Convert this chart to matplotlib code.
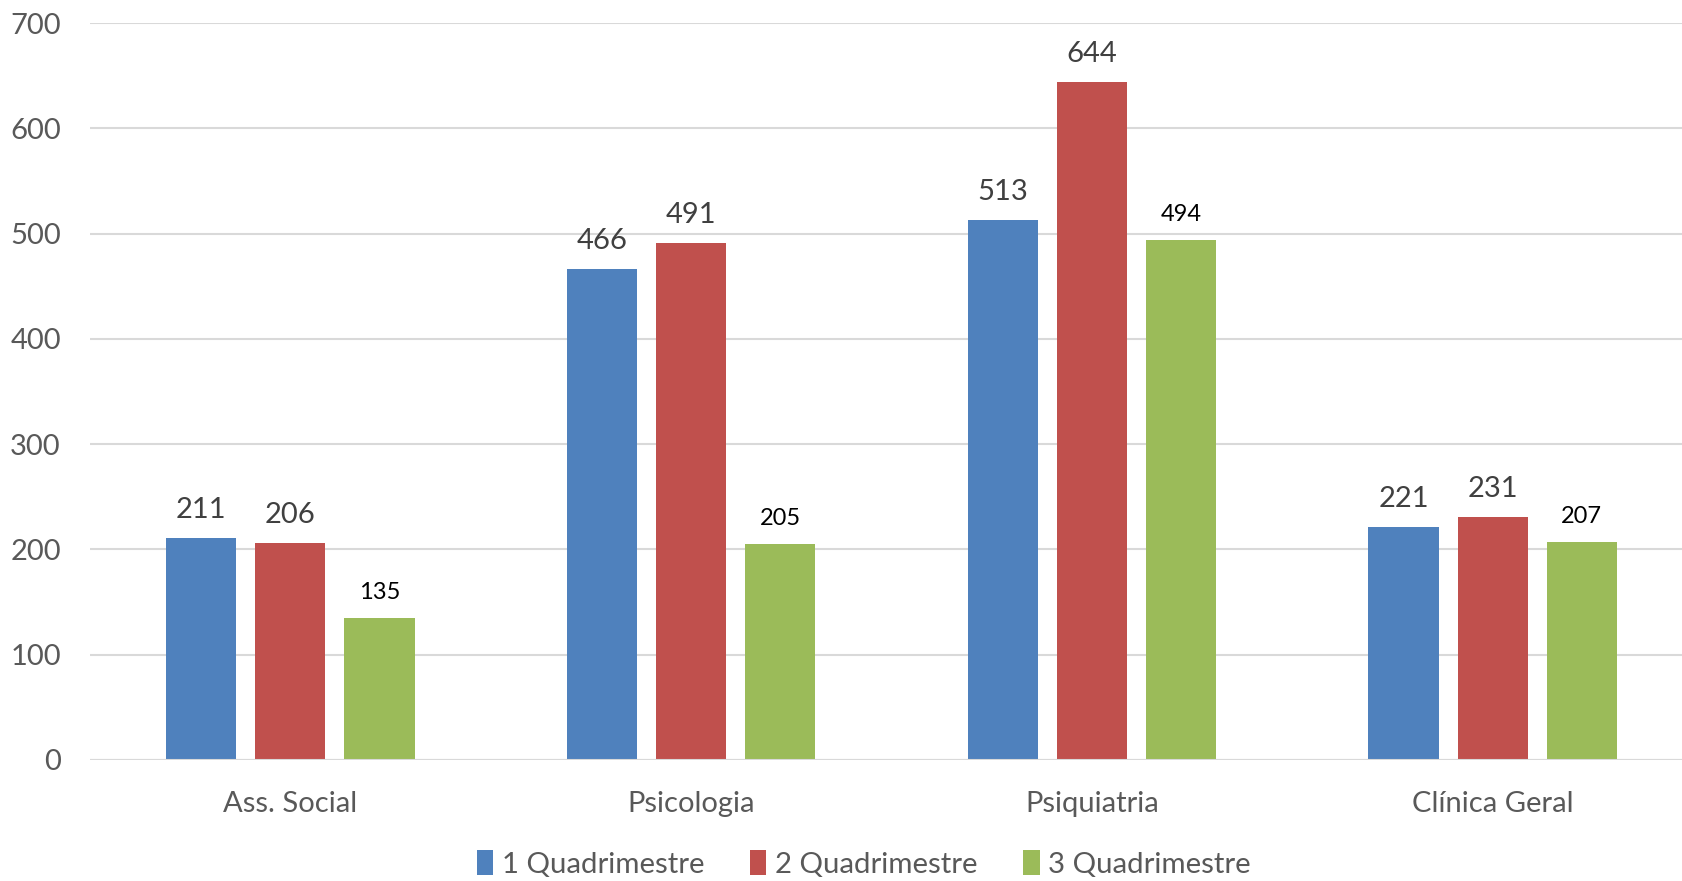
import matplotlib.pyplot as plt
import numpy as np

# dados
categorias = ['Ass. Social', 'Psicologia', 'Psiquiatria', 'Clínica Geral']
series = ['1 Quadrimestre', '2 Quadrimestre', '3 Quadrimestre']
q1 = [211, 466, 513, 221]
q2 = [206, 491, 644, 231]
q3 = [135, 205, 494, 207]
cores = ['#4f81bd', '#c0504d', '#9bbb59']

plt.rcParams['font.family'] = ['Lato', 'DejaVu Sans']

fig = plt.figure(figsize=(16.82, 8.81), dpi=100)
ax = fig.add_axes([90 / 1682, 121 / 881, 1603 / 1682, 737 / 881])

x = np.arange(len(categorias))
largura = 0.175
passo = 0.2225

for i, (vals, nome) in enumerate(zip([q1, q2, q3], series)):
    barras = ax.bar(x + (i - 1) * passo, vals, largura, color=cores[i], label=nome, zorder=3)
    if i < 2:
        ax.bar_label(barras, padding=11, fontsize=21, color='#404040')
    else:
        ax.bar_label(barras, padding=11, fontsize=17, color='black')

# eixos
ax.set_xlim(-0.5, 3.5)
ax.set_ylim(0, 700)
ax.set_yticks(range(0, 701, 100))
ax.set_xticks(x)
ax.set_xticklabels(categorias)
ax.tick_params(axis='both', length=0, labelsize=21, labelcolor='#595959')
ax.tick_params(axis='y', pad=21)
ax.tick_params(axis='x', pad=22)
ax.yaxis.grid(True, color='#d9d9d9', linewidth=1.5, zorder=0)
for s in ax.spines.values():
    s.set_visible(False)
ax.axhline(0, color='#d9d9d9', linewidth=1.5, zorder=4)

fig.legend(loc='center', bbox_to_anchor=(864 / 1682, 1 - 864 / 881), ncol=3, frameon=False,
           fontsize=21.2, labelcolor='#595959', handlelength=0.55, handleheight=0.9,
           handletextpad=0.3, columnspacing=1.55)

fig.savefig('out.png', dpi=100)
